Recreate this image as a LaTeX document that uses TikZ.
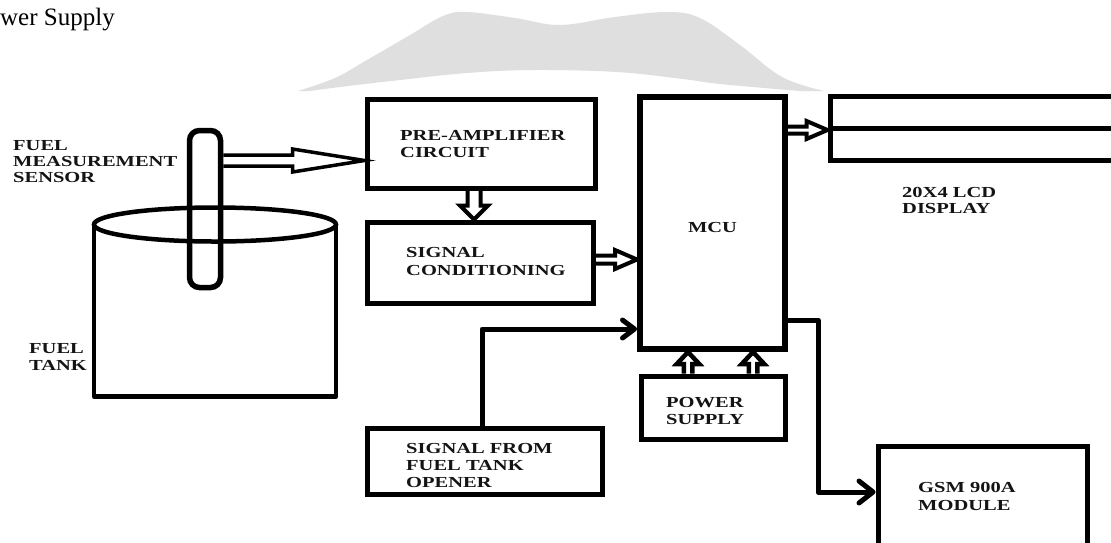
\documentclass[tikz,border=0pt]{standalone}
\usepackage{fontspec}
\setmainfont{Liberation Serif}
\newfontfamily\lblfont[FakeStretch=1.34]{Liberation Serif}
\usetikzlibrary{calc,arrows.meta,shapes.geometric}
\definecolor{wmgray}{HTML}{DFDFDF}
\newcommand\stk[2][17pt]{\vtop{\baselineskip=#1\lineskiplimit=-20pt\halign{##\hfil\cr#2\crcr}}}
% hollow arrow outline: [style]{start}{end}{shaft half}{head length}{head half}
\newcommand\hollow[6][]{%
  \coordinate (hH) at ($(#3)!#5!(#2)$);
  \draw[arrowline,#1] ($(#2)!#4!90:(#3)$) -- ($(hH)!#4!90:(#3)$) -- ($(hH)!#6!90:(#3)$) -- (#3)
     -- ($(hH)!#6!-90:(#3)$) -- ($(hH)!#4!-90:(#3)$) -- ($(#2)!#4!-90:(#3)$);}
\tikzset{
  box/.style={draw, line width=5pt, inner sep=0pt},
  arrowline/.style={line width=4pt, line join=miter},
  conn/.style={line width=5pt, line cap=round, line join=round},
  lbl/.style={font=\lblfont\bfseries\fontsize{15.3}{17}\selectfont, inner sep=0pt, anchor=base west, text=black!92},
}
\begin{document}
\begin{tikzpicture}[x=1pt,y=-1pt]
\useasboundingbox (0,0) rectangle (1111,542);
\fill[white] (0,0) rectangle (1111,542);
\clip (0,0) rectangle (1111,542);
% watermark
\fill[wmgray] plot[smooth, tension=0.6] coordinates {(298,91) (335,78) (367,60) (410,35) (443,16) (467,12) (515,18) (560,25) (615,17) (667,12) (700,18) (740,45) (782,77) (824,91)}
  -- plot[smooth, tension=0.6] coordinates {(800,91) (720,84) (683,79) (617,72) (533,70) (467,73) (400,80) (340,87) (310,91)} -- cycle;
\node[font=\fontsize{25}{28}\selectfont, inner sep=0pt, anchor=base west] (ttl) at (0,25) {wer Supply};
% boxes
\node[box, minimum width=228pt, minimum height=89pt] (pre) at (481,143.5) {};
\node[box, minimum width=226pt, minimum height=81pt] (sig) at (480,262.5) {};
\node[box, line width=6pt, minimum width=145pt, minimum height=252pt] (mcu) at (712.5,223) {};
\node[box, minimum width=300pt, minimum height=64pt] (lcd) at (980,128) {};
\draw[line width=5pt] (lcd.west) -- (lcd.east);
\node[box, minimum width=144pt, minimum height=63pt] (pow) at (713,407.5) {};
\node[box, minimum width=235pt, minimum height=66pt] (opn) at (484.5,461) {};
\node[box, minimum width=209pt, minimum height=114pt] (gsm) at (982.5,503) {};
% tank and sensor
\node[ellipse, draw, line width=4.5pt, minimum width=242pt, minimum height=34pt, inner sep=0pt, outer sep=0pt] (tank) at (215,224.5) {};
\coordinate (tbl) at ($(tank.west)+(0,172)$);
\draw[line width=4.5pt, line join=round] (tank.west) -- (tbl) -- (tbl -| tank.east) -- (tank.east);
\node[draw, line width=5.5pt, rounded corners=10pt, minimum width=31pt, minimum height=157pt, inner sep=0pt] (sen) at (205,209) {};
% hollow arrows
\coordinate (a1e) at ($(pre.west)+(0,17)$);
\coordinate (a1s) at (sen.east |- a1e);
\hollow[line width=3.5pt]{a1s}{a1e}{5.5pt}{72pt}{11.5pt}
\coordinate (a2e) at ($(mcu.west |- sig.east)+(0,-3)$);
\coordinate (a2s) at (sig.east |- a2e);
\hollow{a2s}{a2e}{4pt}{22pt}{9.5pt}
\coordinate (a3e) at ($(lcd.west)+(0,2)$);
\coordinate (a3s) at (mcu.east |- a3e);
\hollow{a3s}{a3e}{3.5pt}{21pt}{9pt}
\coordinate (a4s) at ($(pre.south)+(-7,0)$);
\coordinate (a4e) at (a4s |- sig.north);
\hollow{a4s}{a4e}{6.5pt}{14pt}{14pt}
\coordinate (p1s) at ($(pow.north)+(-25,0)$);
\coordinate (p1e) at (p1s |- mcu.south);
\hollow[line width=4.5pt]{p1s}{p1e}{4.25pt}{12pt}{11.25pt}
\coordinate (p2s) at ($(pow.north)+(40,0)$);
\coordinate (p2e) at (p2s |- mcu.south);
\hollow[line width=4.5pt]{p2s}{p2e}{4.25pt}{12pt}{11.25pt}
% line connectors
\coordinate (ob) at ($(opn.north)+(-2.5,0)$);
\coordinate (oin) at ($(mcu.west)+(0,106)$);
\draw[conn, -{Straight Barb[length=12pt, width=18pt, round]}] (ob) |- (oin);
\coordinate (gout) at ($(mcu.east)+(0,97)$);
\coordinate (gturn) at ($(gout)+(30,0)$);
\coordinate (gin) at ($(gsm.west)+(0,-11)$);
\draw[conn, -{Straight Barb[length=14pt, width=22pt, round]}] (gout) -- (gturn) |- (gin);
% labels
\node[lbl] (lsen) at (13,150) {\stk[16pt]{FUEL\cr MEASUREMENT\cr SENSOR}};
\node[lbl] (ltank) at (29,353) {\stk{FUEL\cr TANK}};
\node[lbl] (lpre) at (400,140) {\stk{PRE-AMPLIFIER\cr CIRCUIT}};
\node[lbl] (lsig) at (406,257) {\stk[18pt]{SIGNAL\cr CONDITIONING}};
\node[lbl, anchor=base] (lmcu) at (712.5,232) {MCU};
\node[lbl] (llcd) at (902,197) {\stk[16pt]{20X4 LCD\cr DISPLAY}};
\node[lbl] (lopn) at (406,453) {\stk{SIGNAL FROM\cr FUEL TANK\cr OPENER}};
\node[lbl] (lpow) at (666,407) {\stk{POWER\cr SUPPLY}};
\node[lbl] (lgsm) at (918,492) {\stk[18pt]{GSM 900A\cr MODULE}};
\end{tikzpicture}
\end{document}
